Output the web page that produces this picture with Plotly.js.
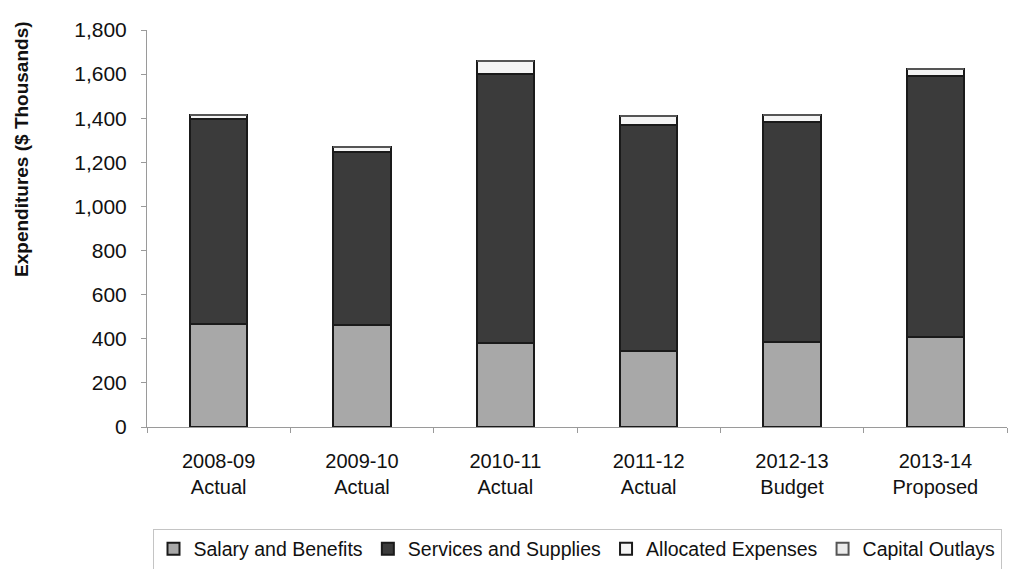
<!DOCTYPE html>
<html>
<head>
<meta charset="utf-8">
<script src="https://cdn.plot.ly/plotly-3.0.1.min.js"></script>
<style>html,body{margin:0;padding:0;background:#fff;}#chart{width:1034px;height:569px;}</style>
</head>
<body>
<div id="chart"></div>
<script>
var categories = ["2008-09<br>Actual", "2009-10<br>Actual", "2010-11<br>Actual", "2011-12<br>Actual", "2012-13<br>Budget", "2013-14<br>Proposed"];
var salaryBenefits = [469, 463, 383, 344, 387, 406];
var servicesSupplies = [926, 783, 1217, 1026, 994, 1185];
var allocatedExpenses = [20, 24, 60, 38, 34, 34];
var capitalOutlays = [0, 0, 0, 0, 0, 0];
var yTicks = [0, 200, 400, 600, 800, 1000, 1200, 1400, 1600, 1800];
var yTitle = "Expenditures ($ Thousands)";

function series(name, values, fill, line) {
  return {
    type: "bar", name: name, x: categories, y: values,
    marker: {color: fill, line: {color: line, width: 2}},
    hoverinfo: "y+name"
  };
}
var data = [
  series("Salary and Benefits", salaryBenefits, "#a8a8a8", "#1a1a1a"),
  series("Services and Supplies", servicesSupplies, "#3b3b3b", "#1a1a1a"),
  series("Allocated Expenses", allocatedExpenses, "#f4f4f4", "#1a1a1a"),
  series("Capital Outlays", capitalOutlays, "#ececec", "#555555")
];
var layout = {
  width: 1034, height: 569,
  barmode: "stack", bargap: 0.6,
  paper_bgcolor: "#ffffff", plot_bgcolor: "#ffffff",
  margin: {l: 147, r: 27, t: 30, b: 142},
  font: {family: "Liberation Sans, Arial, sans-serif", color: "#111"},
  xaxis: {
    showline: true, linecolor: "#9a9a9a", linewidth: 1,
    ticks: "outside", ticklen: 5, tickcolor: "#9a9a9a", tickson: "boundaries",
    tickfont: {size: 20, color: "#111"}, ticklabelstandoff: 16,
    showgrid: false, zeroline: false, automargin: false
  },
  yaxis: {
    range: [0, 1800], tickvals: yTicks, tickformat: ",d",
    showline: true, linecolor: "#9a9a9a", linewidth: 1,
    ticks: "outside", ticklen: 5, tickcolor: "#9a9a9a",
    tickfont: {size: 21, color: "#111"}, ticklabelstandoff: 10,
    showgrid: false, zeroline: false, automargin: false
  },
  annotations: [{
    text: "<b>" + yTitle + "</b>", textangle: -90,
    xref: "paper", yref: "paper", x: -0.1453, y: 0.698,
    xanchor: "center", yanchor: "middle", showarrow: false,
    font: {size: 19, color: "#111"}
  }],
  legend: {
    orientation: "h", x: 0.5, xanchor: "center",
    yref: "container", y: 0.035, yanchor: "middle",
    font: {size: 19.5, color: "#111"}, bordercolor: "#c4c4c4", borderwidth: 1,
    traceorder: "normal", itemwidth: 30
  },
  showlegend: true
};
Plotly.newPlot("chart", data, layout, {displayModeBar: false, staticPlot: true});
</script>
</body>
</html>
